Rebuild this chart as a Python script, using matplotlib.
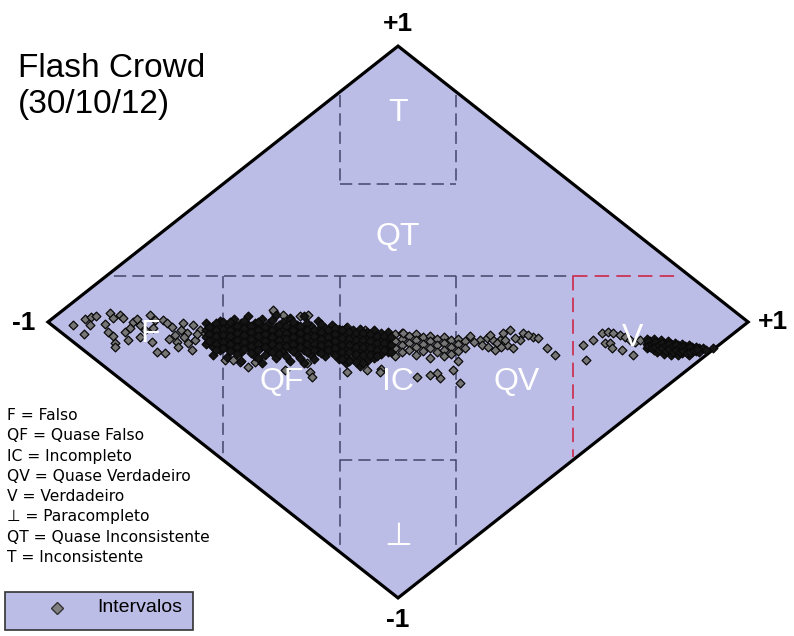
import numpy as np
import matplotlib
matplotlib.use("Agg")
import matplotlib.pyplot as plt
from matplotlib.patches import Polygon, Rectangle

# Paraconsistent lattice: x = grau de certeza (Gc), y = grau de contradicao (Gct)
title_lines = ["Flash Crowd", "(30/10/12)"]

region_names = ["T", "QT", "F", "QF", "IC", "QV", "V", "\u22a5"]
region_gc = [0.0, 0.0, -0.709, -0.331, 0.0, 0.34, 0.669, 0.0]
region_gct = [0.757, 0.308, -0.045, -0.217, -0.217, -0.217, -0.058, -0.78]

key_lines = ["F = Falso", "QF = Quase Falso", "IC = Incompleto",
             "QV = Quase Verdadeiro", "V = Verdadeiro", "\u22a5 = Paracompleto",
             "QT = Quase Inconsistente", "T = Inconsistente"]

# limits of the regions
lim_low = 1 / 6
lim_high = 0.5

# points (Gc, Gct)
f_pts = [(-0.929, -0.011), (-0.897, -0.043), (-0.894, 0.011), (-0.877, 0.018),
         (-0.863, 0.022), (-0.880, -0.011), (-0.837, -0.007), (-0.823, 0.033),
         (-0.814, 0.014), (-0.829, -0.036), (-0.814, -0.051), (-0.809, -0.076),
         (-0.809, -0.091), (-0.794, 0.025), (-0.786, 0.014), (-0.780, -0.036),
         (-0.771, -0.065), (-0.766, -0.022), (-0.757, 0.000), (-0.737, -0.011),
         (-0.737, -0.054), (-0.723, -0.029), (-0.709, 0.025), (-0.703, -0.072),
         (-0.689, -0.109), (-0.666, -0.112), (-0.694, 0.007), (-0.671, 0.007),
         (-0.660, -0.004), (-0.646, -0.018), (-0.637, -0.047), (-0.631, -0.072),
         (-0.629, -0.091), (-0.614, -0.004), (-0.603, -0.040), (-0.600, -0.076),
         (-0.586, -0.011), (-0.580, -0.065), (-0.589, -0.101), (-0.566, -0.029),
         (-0.551, -0.040), (-0.546, -0.076), (-0.620, -0.030), (-0.655, -0.060),
         (-0.700, -0.020), (-0.745, 0.010), (-0.610, -0.055), (-0.575, -0.045)]

qf_band = [(-0.55, -0.005), (-0.55, -0.030), (-0.55, -0.055), (-0.55, -0.080),
           (-0.53, -0.015), (-0.53, -0.040), (-0.53, -0.062), (-0.53, -0.090), (-0.53, -0.118),
           (-0.51, 0.005), (-0.51, -0.022), (-0.51, -0.048), (-0.51, -0.072), (-0.51, -0.100),
           (-0.49, -0.010), (-0.49, -0.035), (-0.49, -0.058), (-0.49, -0.085), (-0.49, -0.128),
           (-0.47, 0.010), (-0.47, -0.018), (-0.47, -0.044), (-0.47, -0.068), (-0.47, -0.095),
           (-0.45, -0.003), (-0.45, -0.030), (-0.45, -0.055), (-0.45, -0.080), (-0.45, -0.108),
           (-0.45, -0.140), (-0.43, 0.020), (-0.43, -0.012), (-0.43, -0.038), (-0.43, -0.062),
           (-0.43, -0.090), (-0.41, -0.005), (-0.41, -0.025), (-0.41, -0.050), (-0.41, -0.075),
           (-0.41, -0.100), (-0.41, -0.125), (-0.39, 0.012), (-0.39, -0.015), (-0.39, -0.040),
           (-0.39, -0.065), (-0.39, -0.088), (-0.39, -0.150), (-0.37, -0.002), (-0.37, -0.030),
           (-0.37, -0.055), (-0.37, -0.080), (-0.37, -0.105), (-0.35, 0.025), (-0.35, -0.018),
           (-0.35, -0.042), (-0.35, -0.068), (-0.35, -0.095), (-0.35, -0.130), (-0.33, 0.000),
           (-0.33, -0.028), (-0.33, -0.052), (-0.33, -0.078), (-0.33, -0.110), (-0.31, 0.010),
           (-0.31, -0.020), (-0.31, -0.045), (-0.31, -0.070), (-0.31, -0.095), (-0.31, -0.140),
           (-0.29, -0.010), (-0.29, -0.035), (-0.29, -0.060), (-0.29, -0.085), (-0.29, -0.115),
           (-0.27, 0.022), (-0.27, -0.025), (-0.27, -0.050), (-0.27, -0.075), (-0.27, -0.100),
           (-0.27, -0.150), (-0.25, -0.015), (-0.25, -0.040), (-0.25, -0.065), (-0.25, -0.090),
           (-0.25, -0.120), (-0.23, 0.005), (-0.23, -0.030), (-0.23, -0.055), (-0.23, -0.080),
           (-0.23, -0.105), (-0.21, -0.020), (-0.21, -0.045), (-0.21, -0.070), (-0.21, -0.095),
           (-0.21, -0.125), (-0.19, -0.010), (-0.19, -0.035), (-0.19, -0.060), (-0.19, -0.085),
           (-0.19, -0.110), (-0.17, -0.025), (-0.17, -0.050), (-0.17, -0.075), (-0.17, -0.100),
           (-0.17, -0.135),
           (-0.54, -0.018), (-0.54, -0.042), (-0.54, -0.068),
           (-0.52, -0.005), (-0.52, -0.028), (-0.52, -0.052), (-0.52, -0.078), (-0.52, -0.100),
           (-0.50, 0.000), (-0.50, -0.025), (-0.50, -0.048), (-0.50, -0.072), (-0.50, -0.095),
           (-0.48, 0.000), (-0.48, -0.028), (-0.48, -0.052), (-0.48, -0.078), (-0.48, -0.105),
           (-0.46, -0.015), (-0.46, -0.040), (-0.46, -0.065), (-0.46, -0.090), (-0.46, -0.115),
           (-0.44, 0.005), (-0.44, -0.022), (-0.44, -0.048), (-0.44, -0.072), (-0.44, -0.098),
           (-0.42, -0.015), (-0.42, -0.038), (-0.42, -0.062), (-0.42, -0.088), (-0.42, -0.112),
           (-0.40, 0.000), (-0.40, -0.028), (-0.40, -0.052), (-0.40, -0.078), (-0.40, -0.102),
           (-0.40, -0.130), (-0.38, -0.018), (-0.38, -0.042), (-0.38, -0.068), (-0.38, -0.092),
           (-0.38, -0.118), (-0.36, 0.008), (-0.36, -0.030), (-0.36, -0.055), (-0.36, -0.080),
           (-0.36, -0.108), (-0.34, -0.010), (-0.34, -0.040), (-0.34, -0.065), (-0.34, -0.088),
           (-0.34, -0.115), (-0.32, -0.015), (-0.32, -0.040), (-0.32, -0.062), (-0.32, -0.088),
           (-0.32, -0.125), (-0.30, 0.000), (-0.30, -0.030), (-0.30, -0.055), (-0.30, -0.080),
           (-0.30, -0.105), (-0.28, -0.015), (-0.28, -0.040), (-0.28, -0.065), (-0.28, -0.090),
           (-0.28, -0.130), (-0.26, -0.005), (-0.26, -0.030), (-0.26, -0.055), (-0.26, -0.080),
           (-0.26, -0.108), (-0.24, -0.028), (-0.24, -0.052), (-0.24, -0.078), (-0.24, -0.100),
           (-0.24, -0.135), (-0.22, -0.008), (-0.22, -0.035), (-0.22, -0.060), (-0.22, -0.085),
           (-0.22, -0.112), (-0.20, -0.030), (-0.20, -0.055), (-0.20, -0.080), (-0.20, -0.100),
           (-0.18, -0.020), (-0.18, -0.045), (-0.18, -0.070), (-0.18, -0.095), (-0.18, -0.120)]

qf_out = [(-0.354, 0.036), (-0.329, 0.025), (-0.257, 0.025), (-0.357, 0.043), (-0.280, 0.022),
          (-0.309, 0.014), (-0.494, -0.138), (-0.451, -0.145), (-0.429, -0.163), (-0.409, -0.145),
          (-0.323, -0.174), (-0.260, -0.149), (-0.251, -0.181), (-0.246, -0.199), (-0.471, -0.138)]

ic_band = [(-0.15, -0.020), (-0.15, -0.045), (-0.15, -0.070), (-0.15, -0.095), (-0.15, -0.120),
           (-0.15, -0.150), (-0.13, -0.030), (-0.13, -0.055), (-0.13, -0.080), (-0.13, -0.105),
           (-0.13, -0.135), (-0.11, -0.025), (-0.11, -0.050), (-0.11, -0.075), (-0.11, -0.100),
           (-0.11, -0.125), (-0.11, -0.160), (-0.09, -0.035), (-0.09, -0.060), (-0.09, -0.085),
           (-0.09, -0.110), (-0.09, -0.140), (-0.07, -0.030), (-0.07, -0.055), (-0.07, -0.080),
           (-0.07, -0.105), (-0.07, -0.130), (-0.05, -0.040), (-0.05, -0.065), (-0.05, -0.090),
           (-0.05, -0.115), (-0.03, -0.035), (-0.03, -0.060), (-0.03, -0.085),
           (-0.03, -0.110),
           (-0.16, -0.030), (-0.16, -0.058), (-0.16, -0.082), (-0.16, -0.108), (-0.16, -0.135),
           (-0.14, -0.035), (-0.14, -0.060), (-0.14, -0.085), (-0.14, -0.110), (-0.14, -0.140),
           (-0.12, -0.040), (-0.12, -0.065), (-0.12, -0.090), (-0.12, -0.115), (-0.12, -0.145),
           (-0.10, -0.040), (-0.10, -0.065), (-0.10, -0.092), (-0.10, -0.118), (-0.10, -0.150),
           (-0.08, -0.045), (-0.08, -0.070), (-0.08, -0.095), (-0.08, -0.120),
           (-0.06, -0.050), (-0.06, -0.075), (-0.06, -0.100), (-0.06, -0.125),
           (-0.04, -0.050), (-0.04, -0.075), (-0.04, -0.100),
           (-0.02, -0.055), (-0.02, -0.082), (-0.02, -0.110)]

ic_pts = [(-0.05, -0.170), (-0.01, -0.045), (-0.01, -0.070), (-0.01, -0.095), (-0.01, -0.125),
          (0.01, -0.040), (0.01, -0.060), (0.01, -0.085), (0.01, -0.110), (0.03, -0.050),
          (0.03, -0.075), (0.03, -0.100), (0.05, -0.045), (0.05, -0.065), (0.05, -0.090),
          (0.05, -0.120), (0.07, -0.055), (0.07, -0.080), (0.07, -0.105), (0.09, -0.050),
          (0.09, -0.070), (0.09, -0.095), (0.09, -0.130), (0.11, -0.060), (0.11, -0.085),
          (0.11, -0.110), (0.13, -0.055), (0.13, -0.075), (0.13, -0.100), (0.13, -0.125),
          (0.15, -0.065), (0.15, -0.090), (0.15, -0.115), (0.17, -0.060), (0.17, -0.080),
          (0.17, -0.105), (0.17, -0.140), (0.19, -0.070), (0.19, -0.095),
          (-0.146, -0.181), (-0.089, -0.174), (-0.051, -0.181), (0.054, -0.199), (0.091, -0.192),
          (0.120, -0.203), (0.157, -0.174), (0.177, -0.221), (0.111, -0.185), (-0.094, -0.029),
          (-0.146, -0.018), (0.014, -0.040)]

qv_pts = [(0.254, -0.058), (0.271, -0.065), (0.300, -0.040), (0.320, -0.029), (0.311, -0.083),
          (0.329, -0.094), (0.349, -0.065), (0.357, -0.040), (0.386, -0.054), (0.400, -0.058),
          (0.426, -0.094), (0.449, -0.120), (0.234, -0.065), (0.263, -0.047), (0.291, -0.065),
          (0.283, -0.076), (0.334, -0.058), (0.371, -0.047), (0.217, -0.072), (0.206, -0.051),
          (0.240, -0.083), (0.257, -0.091), (0.277, -0.101), (0.294, -0.091), (0.306, -0.065)]

v_pts = [(0.529, -0.083), (0.537, -0.138), (0.557, -0.065), (0.583, -0.040), (0.600, -0.036),
         (0.614, -0.040), (0.634, -0.047), (0.649, -0.054), (0.591, -0.076), (0.606, -0.076),
         (0.611, -0.094), (0.640, -0.101), (0.671, -0.120), (0.663, -0.065), (0.677, -0.072),
         (0.691, -0.065)]

v_band = [(0.71, -0.060), (0.71, -0.080), (0.71, -0.095), (0.72, -0.070), (0.72, -0.090),
          (0.73, -0.062), (0.73, -0.082), (0.73, -0.100), (0.74, -0.072), (0.74, -0.092),
          (0.74, -0.110), (0.75, -0.065), (0.75, -0.085), (0.75, -0.102), (0.76, -0.075),
          (0.76, -0.095), (0.76, -0.115), (0.77, -0.070), (0.77, -0.088), (0.77, -0.106),
          (0.78, -0.080), (0.78, -0.098), (0.78, -0.118), (0.79, -0.075), (0.79, -0.092),
          (0.79, -0.110), (0.80, -0.085), (0.80, -0.102), (0.80, -0.120), (0.81, -0.080),
          (0.81, -0.097), (0.81, -0.113), (0.82, -0.088), (0.82, -0.105), (0.83, -0.085),
          (0.83, -0.100), (0.83, -0.118), (0.84, -0.092), (0.84, -0.108), (0.85, -0.090),
          (0.85, -0.104), (0.86, -0.096), (0.86, -0.110), (0.87, -0.095), (0.88, -0.100),
          (0.90, -0.095),
          (0.715, -0.070), (0.715, -0.088), (0.725, -0.078), (0.725, -0.095), (0.735, -0.072),
          (0.735, -0.092), (0.745, -0.082), (0.745, -0.100), (0.755, -0.075), (0.755, -0.095),
          (0.765, -0.085), (0.765, -0.105), (0.775, -0.080), (0.775, -0.098), (0.785, -0.088),
          (0.785, -0.108), (0.795, -0.085), (0.795, -0.102), (0.805, -0.092), (0.805, -0.110),
          (0.815, -0.090), (0.815, -0.105), (0.825, -0.095), (0.825, -0.112), (0.835, -0.092),
          (0.835, -0.108), (0.845, -0.100), (0.855, -0.098)]

fill = "#bcbde6"
dash_col = "#45456a"
red_col = "#cc3355"
sans = ["Liberation Sans", "DejaVu Sans"]

fig = plt.figure(figsize=(7.94, 6.36), dpi=100)
ax = fig.add_axes([0, 0, 1, 1])
ax.set_xlim(-1.137, 1.131)
ax.set_ylim(-1.138, 1.167)
ax.axis("off")

ax.add_patch(Polygon([(-1, 0), (0, 1), (1, 0), (0, -1)], closed=True,
                     facecolor=fill, edgecolor="black", lw=2.3, zorder=1, joinstyle="miter"))

ls = (0, (8, 4))
# horizontal limit of the upper area
ax.plot([-0.81, lim_high], [lim_low, lim_low], color=dash_col, lw=1.1, ls=ls, zorder=2)
ax.plot([lim_high, 0.806], [lim_low, lim_low], color=red_col, lw=1.3, ls=ls, zorder=2)
# vertical lines
ax.plot([-lim_high, -lim_high], [lim_low, -0.49], color=dash_col, lw=1.1, ls=ls, zorder=2)
ax.plot([lim_high, lim_high], [lim_low, -0.49], color=red_col, lw=1.3, ls=ls, zorder=2)
for s in (-lim_low, lim_low):
    ax.plot([s, s], [lim_low, -0.81], color=dash_col, lw=1.1, ls=ls, zorder=2)
    ax.plot([s, s], [1 - lim_low - 0.01, lim_high], color=dash_col, lw=1.1, ls=ls, zorder=2)
ax.plot([-lim_low, lim_low], [lim_high, lim_high], color=dash_col, lw=1.1, ls=ls, zorder=2)
ax.plot([-lim_low, lim_low], [-lim_high, -lim_high], color=dash_col, lw=1.1, ls=ls, zorder=2)

sparse = np.array(f_pts + qf_out + ic_pts + qv_pts + v_pts)
dense = np.array(qf_band + ic_band + v_band)
ax.scatter(sparse[:, 0], sparse[:, 1], marker="D", s=20, facecolor="#767676",
           edgecolor="#0a0a0a", linewidths=0.9, zorder=4)
# overlapping intervals merge into a solid black band
ax.scatter(dense[:, 0], dense[:, 1], marker="D", s=20, facecolor="#151515",
           edgecolor="#0a0a0a", linewidths=0.9, zorder=4.5)

for name, gx, gy in zip(region_names, region_gc, region_gct):
    ax.text(gx, gy, name, color="white", fontsize=23, ha="center", va="center",
            family=sans, zorder=5)

# vertex labels
ax.text(0, 1.08, "+1", fontsize=19, fontweight="bold", ha="center", va="center", family=sans)
ax.text(0, -1.08, "-1", fontsize=19, fontweight="bold", ha="center", va="center", family=sans)
ax.text(-1.07, -0.005, "-1", fontsize=19, fontweight="bold", ha="center", va="center", family=sans)
ax.text(1.07, 0.0, "+1", fontsize=19, fontweight="bold", ha="center", va="center", family=sans)

# title
fig.text(18 / 794, 1 - 77 / 636, title_lines[0], fontsize=24, family=sans, va="baseline")
fig.text(18 / 794, 1 - 113 / 636, title_lines[1], fontsize=24, family=sans, va="baseline")

# key
for i, line in enumerate(key_lines):
    fig.text(7 / 794, 1 - (420 + i * 20.3) / 636, line, fontsize=11.2,
             family=["DejaVu Sans"], va="baseline")

# legend box
fig.patches.append(Rectangle((5 / 794, 1 - 630 / 636), 188 / 794, 38 / 636,
                             transform=fig.transFigure, facecolor=fill,
                             edgecolor="#333333", lw=1.2))
fig.lines.append(plt.Line2D([57 / 794], [1 - 608 / 636], transform=fig.transFigure,
                            marker="D", markersize=6, markerfacecolor="#808080",
                            markeredgecolor="#333333", markeredgewidth=1, ls="none"))
fig.text(97 / 794, 1 - 608 / 636, "Intervalos", fontsize=14, family=sans, va="center")

fig.savefig("out.png", dpi=100)
